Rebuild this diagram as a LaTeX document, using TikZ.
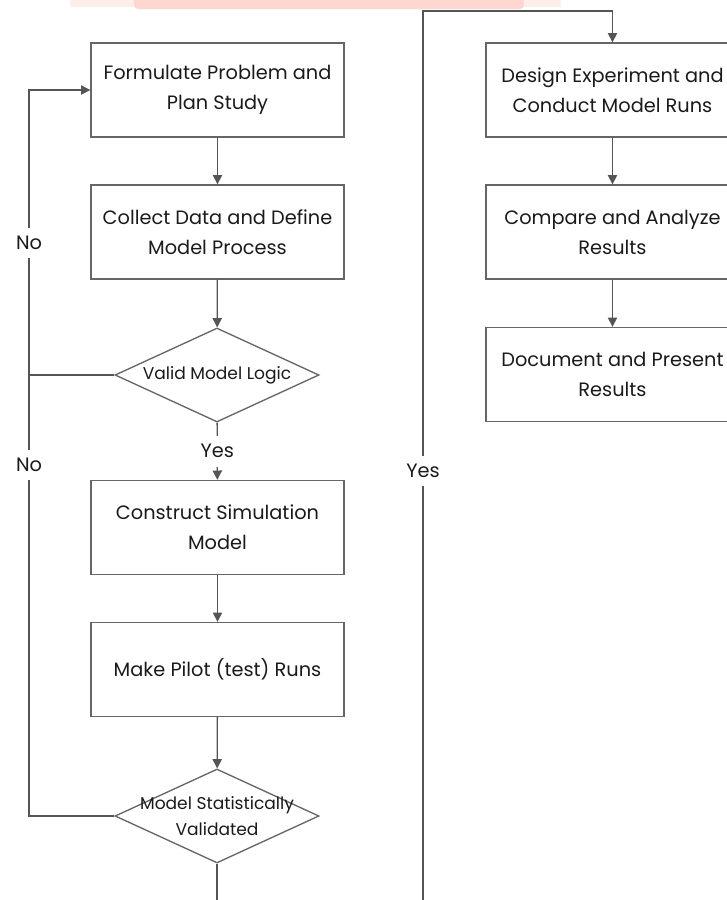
\documentclass[tikz,border=0pt]{standalone}
\usepackage{fontspec}
\setmainfont{Poppins}
\usetikzlibrary{arrows.meta,shapes.geometric}
\definecolor{linegray}{HTML}{555555}
\definecolor{boxgray}{HTML}{666666}
\definecolor{txt}{HTML}{1A1A1A}
\definecolor{wmark}{RGB}{255,214,208}
\begin{document}
\begin{tikzpicture}[x=0.75pt,y=-0.75pt,
  every node/.style={text=txt},
  procbox/.style={draw=boxgray,line width=1pt,minimum width=189.75pt,minimum height=70.5pt,
    inner sep=0pt,align=center,font=\fontsize{14.5}{22.5}\selectfont},
  decbox/.style={draw=boxgray,line width=1pt,diamond,minimum width=153pt,minimum height=70.5pt,
    inner sep=0pt,align=center,font=\fontsize{12.8}{19.5}\selectfont},
  flow/.style={draw=linegray,line width=1pt,-{Triangle[length=7pt,width=7pt]}},
  plain/.style={draw=linegray,line width=1pt},
  lbl/.style={fill=white,inner sep=1pt,minimum height=23pt,font=\fontsize{14.5}{16}\selectfont}]
\useasboundingbox (0,0) rectangle (727,900);
% faint watermark at the top edge
\fill[wmark!45] (70,-5) rectangle (134,7);
\fill[wmark,rounded corners=3pt] (134,-5) rectangle (524,9);
\fill[wmark!45] (524,-5) rectangle (561,7);
% left column
\node[procbox] (b1) at (217.5,90) {Formulate Problem and\\Plan Study};
\node[procbox] (b2) at (217.5,232) {Collect Data and Define\\Model Process};
\node[decbox] (d1) at (217,375) {\makebox[0pt]{Valid Model Logic}};
\node[procbox] (b3) at (217.5,527.5) {Construct Simulation\\Model};
\node[procbox] (b4) at (217.5,669.5) {Make Pilot (test) Runs};
\node[decbox] (d2) at (217,816) {\makebox[0pt]{Model Statistically}\\\makebox[0pt]{Validated}};
% right column
\node[procbox] (b5) at (612.5,90) {Design Experiment and\\Conduct Model Runs};
\node[procbox] (b6) at (612.5,232) {Compare and Analyze\\Results};
\node[procbox] (b7) at (612.5,374.5) {Document and Present\\Results};
% helper coordinates
\coordinate (lx) at (29,816);
\coordinate (lt) at (29,90);
\coordinate (bot1) at (217,900);
\coordinate (bot2) at (423,900);
\coordinate (rt1) at (423,11);
\coordinate (rt2) at (612.5,11);
% connectors
\draw[flow] (b1) -- (b2);
\draw[flow] (b2) -- (d1);
\draw[flow] (d1) -- node[lbl,pos=0.5] (yes1) {Yes} (b3);
\draw[flow] (b3) -- (b4);
\draw[flow] (b4) -- (d2);
\draw[flow] (d2.west) -- (lx) -- (lt) -- (b1.west);
\draw[plain] (d1.west) -- (d1.west -| lx);
\node[lbl] (no1) at (29,243) {No};
\node[lbl] (no2) at (29,465) {No};
\draw[plain] (d2.south) -- (bot1);
\draw[flow] (bot2) -- (rt1) -- (rt2) -- (b5.north);
\node[lbl] (yes2) at (423,471) {Yes};
\draw[flow] (b5) -- (b6);
\draw[flow] (b6) -- (b7);
\end{tikzpicture}
\end{document}
